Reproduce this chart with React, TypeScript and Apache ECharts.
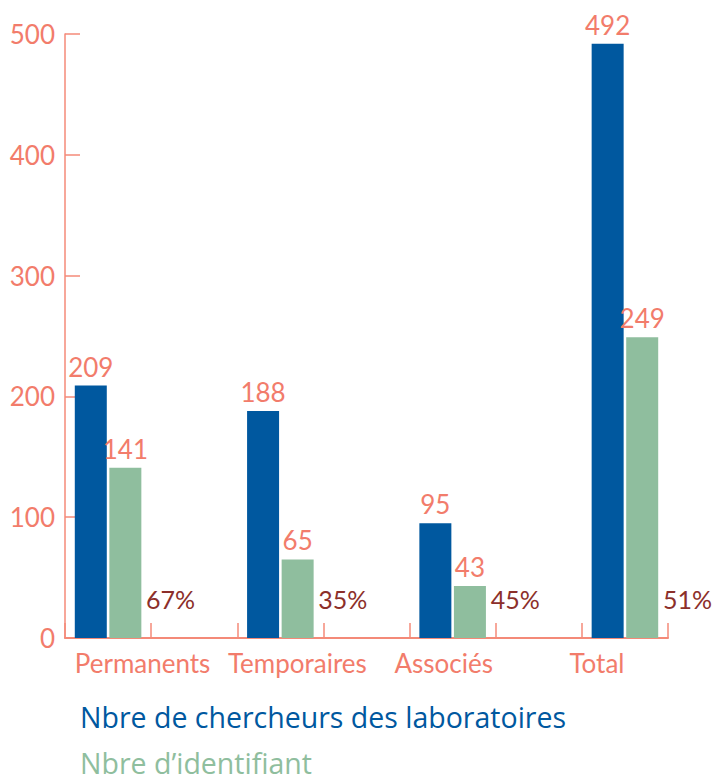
import React, { useEffect, useRef } from "react";
import * as echarts from "echarts";

const categories = ["Permanents", "Temporaires", "Associés", "Total"];
const chercheurs = [209, 188, 95, 492];
const identifiants = [141, 65, 43, 249];
const percents = ["67%", "35%", "45%", "51%"];
const yTicks = { min: 0, max: 500, interval: 100 };
const seriesNames = ["Nbre de chercheurs des laboratoires", "Nbre d’identifiant"];

const BLUE = "#00589f";
const GREEN = "#8fbe9e";
const SALMON = "#f27c6b";
const AXIS = "#f48a78";
const DARK = "#8c2f2a";
const FONT = "Lato, 'Noto Sans', sans-serif";
const LEGEND_FONT = "'Open Sans', Lato, sans-serif";

// axis categories with an empty band after each group
const axisCats: string[] = [];
const blueData: (number | null)[] = [];
const greenData: (number | null)[] = [];
const pctData: [number, number, string][] = [];
categories.forEach((c, i) => {
  if (i > 0) {
    axisCats.push("");
    blueData.push(null);
    greenData.push(null);
  }
  pctData.push([axisCats.length, 0, percents[i]]);
  axisCats.push(c);
  blueData.push(chercheurs[i]);
  greenData.push(identifiants[i]);
});

const richKeys = ["p", "t", "a", "o"];
const legendColors = [BLUE, GREEN];
const legendTops = [702, 748];

export default function App() {
  const ref = useRef<HTMLDivElement>(null);
  useEffect(() => {
    if (!ref.current) return;
    const chart = echarts.init(ref.current, undefined, { renderer: "svg" });
    const labelStyle = {
      show: true,
      position: "top" as const,
      distance: 6,
      color: SALMON,
      fontSize: 26,
      fontFamily: FONT,
    };
    chart.setOption({
      animation: false,
      grid: { left: 65, right: 44, top: 34, bottom: 141, containLabel: false },
      legend: seriesNames.map((n, i) => ({
        left: 75,
        top: legendTops[i],
        padding: 0,
        icon: "rect",
        itemWidth: 0,
        itemHeight: 0,
        selectedMode: false,
        data: [{ name: n, textStyle: { color: legendColors[i] } }],
        textStyle: { fontSize: 28.5, lineHeight: 26, fontFamily: LEGEND_FONT },
      })),
      xAxis: {
        type: "category",
        data: axisCats,
        axisLine: { lineStyle: { color: AXIS, width: 2 } },
        axisTick: {
          show: true,
          inside: true,
          length: 15,
          interval: 0,
          lineStyle: { color: AXIS, width: 1.5 },
        },
        axisLabel: {
          interval: 0,
          margin: 12,
          color: SALMON,
          fontSize: 26,
          fontFamily: FONT,
          formatter: (v: string) => {
            const i = categories.indexOf(v);
            return i < 0 ? "" : `{${richKeys[i]}|${v}}`;
          },
          rich: {
            p: { padding: [0, 0, 0, 69], color: SALMON, fontSize: 26, fontFamily: FONT },
            t: { padding: [0, 0, 0, 34], color: SALMON, fontSize: 26, fontFamily: FONT },
            a: { padding: [0, 18, 0, 0], color: SALMON, fontSize: 26, fontFamily: FONT },
            o: { padding: [0, 56, 0, 0], color: SALMON, fontSize: 26, fontFamily: FONT },
          },
        },
      },
      yAxis: {
        type: "value",
        min: yTicks.min,
        max: yTicks.max,
        interval: yTicks.interval,
        axisLine: { show: true, lineStyle: { color: AXIS, width: 1.5 } },
        axisTick: { show: true, inside: true, length: 15, lineStyle: { color: AXIS, width: 1.5 } },
        splitLine: { show: false },
        axisLabel: { color: SALMON, fontSize: 26, fontFamily: FONT, margin: 10 },
      },
      series: [
        {
          name: seriesNames[0],
          type: "bar",
          data: blueData,
          barWidth: 32,
          barGap: "8%",
          itemStyle: { color: BLUE },
          label: labelStyle,
        },
        {
          name: seriesNames[1],
          type: "bar",
          data: greenData,
          barWidth: 32,
          barGap: "8%",
          itemStyle: { color: GREEN },
          label: labelStyle,
        },
        {
          type: "custom",
          data: pctData,
          encode: { x: 0, y: 1 },
          silent: true,
          renderItem: (params: any, api: any) => {
            const p = api.coord([api.value(0), api.value(1)]);
            return {
              type: "text",
              x: p[0] + 38,
              y: p[1] - 39,
              style: {
                text: pctData[params.dataIndex][2],
                fill: DARK,
                fontSize: 25,
                fontFamily: FONT,
                align: "left",
                verticalAlign: "middle",
              },
            };
          },
        },
      ],
    });
    return () => chart.dispose();
  }, []);
  return <div ref={ref} style={{ width: 712, height: 779, position: "absolute", left: 0, top: 0 }} />;
}
